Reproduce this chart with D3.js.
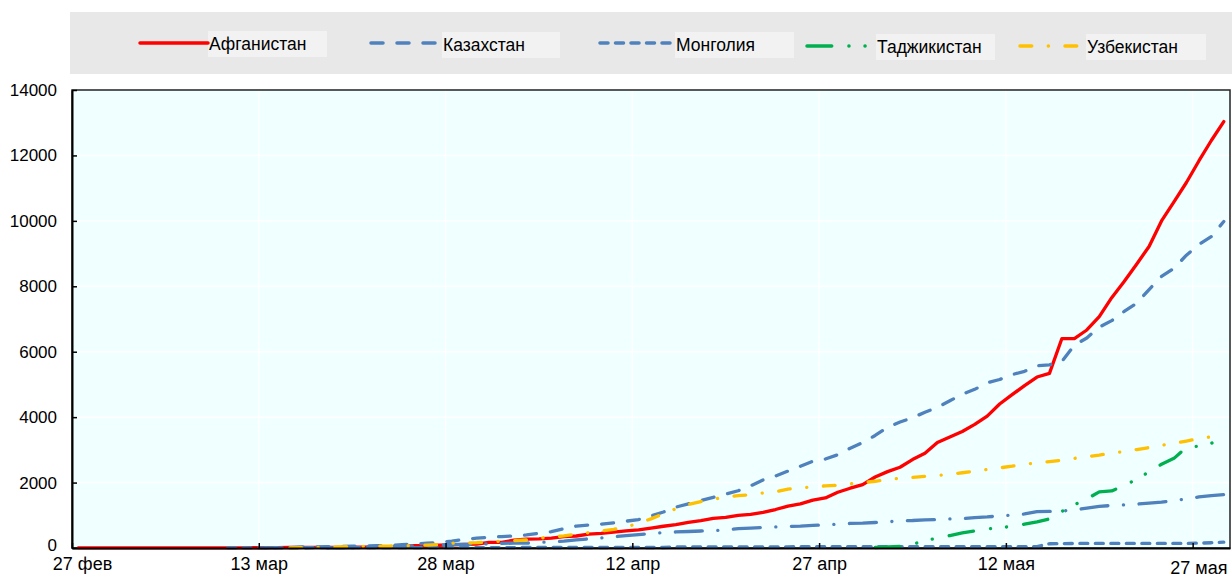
<!DOCTYPE html>
<html>
<head>
<meta charset="utf-8">
<script src="https://d3js.org/d3.v7.min.js"></script>
<title>COVID-19: Центральная Азия</title>
<style>
body { margin: 0; background: #fff; }
svg { display: block; font-family: "Liberation Sans", Arial, sans-serif; }
</style>
</head>
<body>
<svg width="1232" height="578"></svg>
<script>

// ---- data ----
const firstDay = "2020-02-27";
const lastDay = "2020-05-30";
const tickDates = ["2020-02-27", "2020-03-13", "2020-03-28", "2020-04-12", "2020-04-27", "2020-05-12", "2020-05-27"];
const tickLabels = ["27 фев", "13 мар", "28 мар", "12 апр", "27 апр", "12 мая", "27 мая"];
const yTicks = [0, 2000, 4000, 6000, 8000, 10000, 12000, 14000];

// cumulative cases, one value per day from the start date
const afghanistanStart = "2020-02-27";
const afghanistan = [1, 1, 1, 1, 1, 1, 1, 1, 1, 1,
  1, 4, 4, 5, 7, 7, 10, 16, 21, 22,
  22, 22, 24, 24, 40, 40, 42, 74, 74, 84,
  94, 110, 120, 170, 174, 237, 273, 281, 299, 349,
  367, 423, 444, 484, 521, 555, 607, 665, 714, 784,
  840, 906, 933, 996, 1026, 1092, 1176, 1279, 1351, 1463,
  1531, 1703, 1828, 1939, 2171, 2335, 2469, 2704, 2894, 3224,
  3392, 3563, 3778, 4033, 4402, 4687, 4963, 5226, 5339, 6402,
  6402, 6664, 7072, 7653, 8145, 8676, 9216, 9998, 10582, 11173,
  11831, 12456, 13036];

const kazakhstanStart = "2020-03-13";
const kazakhstan = [6, 9, 10, 33, 35, 44, 49, 53, 60, 72,
  79, 100, 120, 145, 170, 210, 260, 300, 330, 350,
  370, 400, 450, 500, 590, 670, 700, 730, 770, 820,
  870, 980, 1100, 1250, 1350, 1450, 1550, 1650, 1750, 1900,
  2080, 2200, 2350, 2500, 2650, 2720, 2850, 3050, 3220, 3440,
  3690, 3850, 3980, 4150, 4300, 4500, 4700, 4850, 5050, 5150,
  5300, 5400, 5570, 5600, 5700, 6200, 6420, 6750, 6950, 7230,
  7480, 7900, 8300, 8550, 8950, 9280, 9520, 9980];

const kyrgyzstanStart = "2020-03-18";
const kyrgyzstan = [3, 6, 14, 14, 16, 42, 44, 58, 84, 94,
  107, 111, 116, 130, 144, 147, 150, 170, 190, 210,
  250, 280, 310, 340, 380, 410, 440, 470, 490, 505,
  520, 530, 560, 590, 610, 630, 645, 660, 670, 690,
  710, 730, 750, 760, 780, 800, 830, 840, 860, 870,
  890, 900, 930, 950, 980, 1010, 1040, 1110, 1120, 1130,
  1160, 1220, 1270, 1300, 1320, 1340, 1370, 1400, 1450, 1500,
  1560, 1600, 1630];

const mongoliaStart = "2020-03-10";
const mongolia = [1, 1, 1, 5, 6, 6, 6, 10, 10, 10,
  10, 10, 11, 11, 12, 12, 12, 12, 14, 14,
  14, 14, 14, 14, 15, 15, 15, 15, 16, 16,
  16, 16, 16, 16, 16, 16, 30, 31, 32, 33,
  34, 35, 35, 36, 37, 37, 38, 38, 38, 38,
  38, 39, 41, 41, 42, 42, 42, 42, 42, 42,
  42, 42, 42, 42, 42, 45, 130, 136, 137, 140,
  140, 141, 141, 141, 141, 141, 141, 141, 148, 161,
  179];

const tajikistanStart = "2020-05-01";
const tajikistan = [15, 32, 50, 110, 230, 300, 380, 460, 520, 580,
  620, 660, 730, 800, 890, 1120, 1320, 1500, 1715, 1745,
  1912, 2100, 2330, 2560, 2740, 3080, 3110, 3200, 3380];

const uzbekistanStart = "2020-03-15";
const uzbekistan = [1, 10, 15, 23, 33, 43, 46, 55, 60, 65,
  72, 88, 104, 145, 155, 163, 185, 210, 227, 245,
  300, 340, 370, 420, 470, 520, 570, 640, 760, 890,
  1050, 1200, 1330, 1420, 1490, 1560, 1600, 1630, 1680, 1720,
  1800, 1840, 1870, 1900, 1920, 1960, 2000, 2040, 2090, 2130,
  2160, 2190, 2220, 2250, 2300, 2350, 2400, 2450, 2500, 2560,
  2600, 2640, 2680, 2740, 2790, 2840, 2900, 2950, 3010, 3070,
  3140, 3200, 3270, 3340, 3400, 3480];

// ---- layout ----
const svg = d3.select("svg");
const plot = {left: 72, right: 1230, top: 90, bottom: 548};
const parse = d3.utcParse("%Y-%m-%d");

const x = d3.scaleUtc()
  .domain([parse(firstDay), parse(lastDay)])
  .range([plot.left, plot.right]);
const y = d3.scaleLinear()
  .domain([0, 14000])
  .range([plot.bottom, plot.top]);

const series = [
  {name: "Афганистан", start: afghanistanStart, values: afghanistan, color: "#ff0000", dash: null},
  {name: "Казахстан", start: kazakhstanStart, values: kazakhstan, color: "#4f81bd", dash: "12,14"},
  {name: "Кыргызстан", start: kyrgyzstanStart, values: kyrgyzstan, color: "#4f81bd", dash: "27,15.5,0.1,15.5", noLegend: true},
  {name: "Монголия", start: mongoliaStart, values: mongolia, color: "#4f81bd", dash: "8,7.5"},
  {name: "Таджикистан", start: tajikistanStart, values: tajikistan, color: "#00b050", dash: "24.7,17.2,0.1,16,0.1,17.2"},
  {name: "Узбекистан", start: uzbekistanStart, values: uzbekistan, color: "#ffc000", dash: "11.7,16.6,0.1,16.6"}
];

function pointsFor(s) {
  let t0 = parse(s.start);
  return s.values.map(function(v, i) {
    // points sit in the middle of their day
    return {date: d3.utcHour.offset(d3.utcDay.offset(t0, i), 12), value: v};
  });
}

// legend band
const legendBox = {x: 70, y: 12, w: 1162, h: 62};
svg.append("rect")
  .attr("x", legendBox.x).attr("y", legendBox.y)
  .attr("width", legendBox.w).attr("height", legendBox.h)
  .attr("fill", "#e8e8e8");

const legendSpots = [
  {x1: 140, x2: 208, ly: 43, bx: 208, by: 31, bw: 119},
  {x1: 371, x2: 440, ly: 43, bx: 442, by: 32, bw: 118},
  {x1: 600, x2: 672, ly: 43, bx: 675, by: 32, bw: 119},
  {x1: 807, x2: 873, ly: 46, bx: 876, by: 34, bw: 119},
  {x1: 1020, x2: 1084, ly: 46, bx: 1086, by: 34, bw: 120}
];

const legendSeries = series.filter(s => !s.noLegend);
const legend = svg.append("g").attr("class", "legend");
legendSeries.forEach(function(s, i) {
  let p = legendSpots[i];
  legend.append("rect")
    .attr("x", p.bx).attr("y", p.by)
    .attr("width", p.bw).attr("height", 26)
    .attr("fill", "#f2f2f2");
  legend.append("line")
    .attr("x1", p.x1).attr("x2", p.x2)
    .attr("y1", p.ly).attr("y2", p.ly)
    .attr("stroke", s.color)
    .attr("stroke-width", 3.5)
    .attr("stroke-linecap", "round")
    .attr("stroke-dasharray", s.dash);
  legend.append("text")
    .attr("x", p.bx + 1).attr("y", p.by + 19)
    .attr("font-size", 17.5)
    .attr("fill", "#000")
    .text(s.name);
});

// plot background + grid
svg.append("rect")
  .attr("x", plot.left).attr("y", plot.top)
  .attr("width", plot.right - plot.left)
  .attr("height", plot.bottom - plot.top)
  .attr("fill", "#f0ffff");

const grid = svg.append("g").attr("class", "grid");
grid.selectAll("line.h")
  .data(yTicks.slice(1))
  .enter().append("line")
  .attr("class", "h")
  .attr("x1", plot.left).attr("x2", plot.right)
  .attr("y1", d => y(d)).attr("y2", d => y(d))
  .attr("stroke", "#fff").attr("stroke-width", 1.5);
grid.selectAll("line.v")
  .data(tickDates.slice(1))
  .enter().append("line")
  .attr("class", "v")
  .attr("x1", d => x(parse(d))).attr("x2", d => x(parse(d)))
  .attr("y1", plot.top).attr("y2", plot.bottom)
  .attr("stroke", "#fff").attr("stroke-width", 1.5);

// border round the plot
svg.append("rect")
  .attr("x", plot.left).attr("y", plot.top)
  .attr("width", plot.right - plot.left)
  .attr("height", plot.bottom - plot.top)
  .attr("fill", "none")
  .attr("stroke", "#222")
  .attr("stroke-width", 1.5);

// lines
const line = d3.line()
  .x(d => x(d.date))
  .y(d => y(d.value));

svg.append("g").attr("class", "lines")
  .selectAll("path")
  .data(series)
  .enter().append("path")
  .attr("d", s => line(pointsFor(s)))
  .attr("fill", "none")
  .attr("stroke", s => s.color)
  .attr("stroke-width", 3.3)
  .attr("stroke-linejoin", "round")
  .attr("stroke-linecap", "round")
  .attr("stroke-dasharray", s => s.dash);

// axes
const xAxis = d3.axisBottom(x)
  .tickValues(tickDates.map(parse))
  .tickFormat((d, i) => tickLabels[i])
  .tickSizeInner(-5)
  .tickSizeOuter(0)
  .tickPadding(9);
const gx = svg.append("g")
  .attr("transform", "translate(0," + plot.bottom + ")")
  .call(xAxis);

const yAxis = d3.axisLeft(y)
  .tickValues(yTicks)
  .tickFormat(d3.format("d"))
  .tickSizeInner(-5)
  .tickSizeOuter(0)
  .tickPadding(15);
const gy = svg.append("g")
  .attr("transform", "translate(" + plot.left + ",0)")
  .call(yAxis);

[gx, gy].forEach(function(g) {
  g.select(".domain").attr("stroke", "#000").attr("stroke-width", 2);
  g.selectAll(".tick line").attr("stroke", "#000").attr("stroke-width", 1.5);
  g.selectAll(".tick text")
    .attr("fill", "#000")
    .attr("font-family", "'Liberation Sans', Arial, sans-serif");
});
gy.selectAll(".tick text").attr("font-size", 17);
gy.selectAll(".tick").filter(d => d === 0).select("text").attr("dy", "0.15em");
gx.selectAll(".tick text").attr("font-size", 18);
gx.selectAll(".tick").filter((d, i) => i === 0).select("text").attr("dx", 10);
gx.selectAll(".tick").filter((d, i) => i === tickLabels.length - 1).select("text")
  .attr("text-anchor", "end")
  .attr("x", plot.right - x(parse(tickDates[tickDates.length - 1])) - 3)
  .attr("dy", "0.95em");

</script>
</body>
</html>
